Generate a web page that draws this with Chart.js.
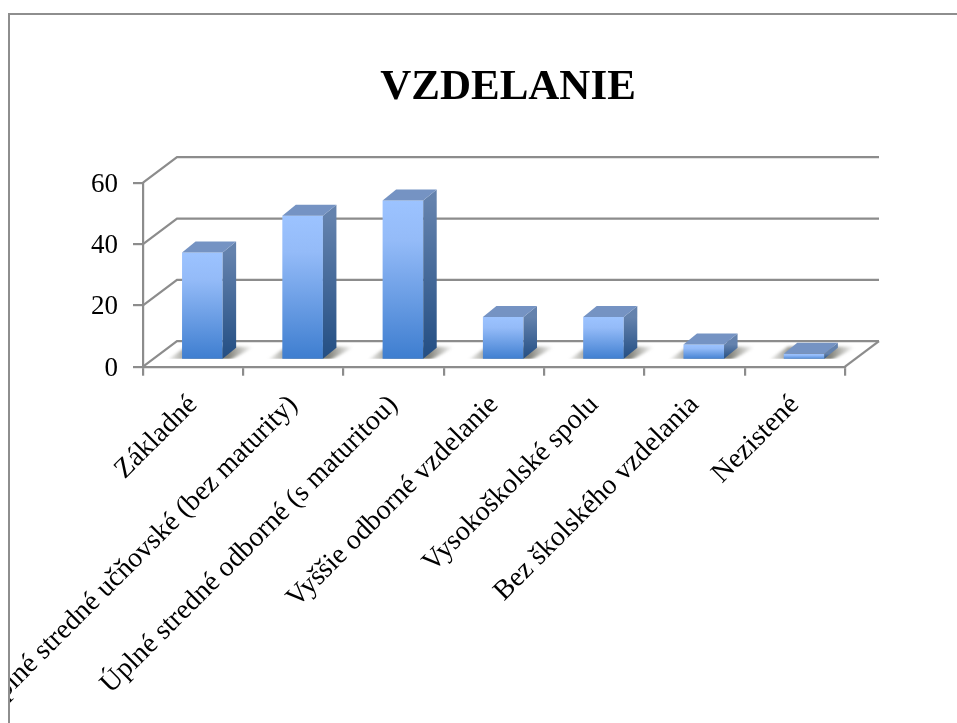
<!DOCTYPE html>
<html><head><meta charset="utf-8">
<style>
html,body{margin:0;padding:0;background:#fff;overflow:hidden;width:957px;height:723px}
#frame{position:absolute;left:8px;top:13px;width:949px;height:710px;box-sizing:border-box;border-left:2px solid #8e8e8e;border-top:2px solid #8e8e8e;overflow:hidden;background:#fff}
#frame canvas{position:absolute;left:0;top:0}
</style>
<script src="https://cdn.jsdelivr.net/npm/chart.js@4"></script>
</head><body>
<div id="frame"><canvas id="c" width="996" height="708" style="width:996px;height:708px"></canvas></div>
<script>
const titleText = 'VZDELANIE';
const categories = ['Základné','Úplné stredné učňovské (bez maturity)','Úplné stredné odborné (s maturitou)','Vyššie odborné vzdelanie','Vysokoškolské spolu','Bez školského vzdelania','Nezistené'];
const values = [35,47,52,14,14,5,2];
const yMax = 60, yStep = 20;

const LINE = '#8c8c8c';
const wall = {dx:34, dy:-25.5};
const front = {dx:9.2, dy:-6.8};
const depth = {dx:13.5, dy:-11};

function poly(ctx, pts){ctx.beginPath();pts.forEach((p,i)=>i?ctx.lineTo(p[0],p[1]):ctx.moveTo(p[0],p[1]));ctx.closePath();}

const bars3d = {
  id:'bars3d',
  beforeDraw(chart){
    // centre the title over the full canvas rather than the padded box
    chart.titleBlock.left = 0;
    chart.titleBlock.right = chart.width;
  },
  beforeDatasetsDraw(chart){
    const {ctx, chartArea:a, scales:{y}} = chart;
    ctx.save();
    ctx.strokeStyle = LINE; ctx.lineWidth = 2.2;
    y.ticks.forEach(t=>{
      const py = y.getPixelForValue(t.value);
      ctx.beginPath();
      ctx.moveTo(a.left,py);
      ctx.lineTo(a.left+wall.dx,py+wall.dy);
      ctx.lineTo(a.right+wall.dx,py+wall.dy);
      ctx.stroke();
    });
    const b = y.getPixelForValue(0);
    ctx.beginPath();ctx.moveTo(a.right,b);ctx.lineTo(a.right+wall.dx,b+wall.dy);ctx.stroke();
    // soft floor shadows, cut off along the bar's base line
    chart.getDatasetMeta(0).data.forEach(el=>{
      const l = el.x-el.width/2+front.dx, r = el.x+el.width/2+front.dx, yb = el.base+front.dy;
      ctx.save();
      ctx.beginPath();ctx.rect(l-30,yb-20,el.width+90,20);ctx.clip();
      ctx.filter = 'blur(1.5px)';
      const g = ctx.createLinearGradient(l-16,0,r+30,0);
      g.addColorStop(0,'rgba(100,100,90,0)');
      g.addColorStop(0.3,'rgba(100,100,90,0.8)');
      g.addColorStop(0.72,'rgba(100,100,90,0.8)');
      g.addColorStop(1,'rgba(100,100,90,0)');
      ctx.fillStyle = g;
      poly(ctx,[[l-16,yb+2],[r+6,yb+2],[r+32,yb-12],[l+4,yb-12]]);
      ctx.fill();
      ctx.restore();
    });
    ctx.restore();
  },
  beforeDatasetDraw(chart){
    chart.ctx.save();
    chart.ctx.translate(front.dx,front.dy);
  },
  afterDatasetDraw(chart,args){
    const ctx = chart.ctx;
    ctx.restore();
    ctx.save();
    args.meta.data.forEach(el=>{
      const l = el.x-el.width/2+front.dx, r = el.x+el.width/2+front.dx;
      const t = el.y+front.dy, b = el.base+front.dy;
      const g = ctx.createLinearGradient(0,t,0,b);
      g.addColorStop(0,'#6482ad');
      g.addColorStop(1,'#234e83');
      ctx.fillStyle = g;
      poly(ctx,[[r,t],[r+depth.dx,t+depth.dy],[r+depth.dx,b+depth.dy],[r,b]]);
      ctx.fill();
      ctx.fillStyle = '#7593c3';
      poly(ctx,[[l,t],[l+depth.dx,t+depth.dy],[r+depth.dx,t+depth.dy],[r,t]]);
      ctx.fill();
    });
    ctx.restore();
  }
};

new Chart(document.getElementById('c'),{
  type:'bar',
  data:{labels:categories,datasets:[{
    data:values,
    clip:false,
    categoryPercentage:0.8,
    barPercentage:0.506,
    borderWidth:0,
    backgroundColor(c){
      const y = c.chart.scales.y;
      const top = y && c.raw!==undefined ? y.getPixelForValue(c.raw) : NaN;
      const bot = y ? y.getPixelForValue(0) : NaN;
      if(!isFinite(top) || !isFinite(bot)) return '#6a9ce6';
      const g = c.chart.ctx.createLinearGradient(0,top,0,bot);
      g.addColorStop(0,'#9cc3ff');
      g.addColorStop(0.25,'#94bbf8');
      g.addColorStop(1,'#3d7dcf');
      return g;
    }
  }]},
  plugins:[bars3d],
  options:{
    responsive:false,animation:false,
    layout:{autoPadding:false,padding:{left:0,top:0,bottom:0,right:161}},
    plugins:{
      legend:{display:false},
      tooltip:{enabled:false},
      title:{display:true,text:titleText,color:'#000',
        font:{family:'"Liberation Serif"',size:43,weight:'bold',lineHeight:1.2},
        padding:{top:47.2,bottom:68.9}}
    },
    scales:{
      x:{
        afterFit(s){s.height=356.3;},
        grid:{drawOnChartArea:false,drawTicks:true,tickLength:9,color:LINE,lineWidth:2.2,offset:true},
        border:{color:LINE,width:2.2},
        ticks:{autoSkip:false,minRotation:45,maxRotation:45,padding:13,color:'#000',
          font:{family:'"Liberation Serif"',size:28}}
      },
      y:{
        min:0,max:yMax,
        afterFit(s){s.width=133;},
        afterUpdate(s){
          if(s._labelsNudged) return;
          s._labelsNudged = true;
          const draw = s.drawLabels;
          s.drawLabels = function(area){
            s.ctx.save(); s.ctx.translate(0,1.8);
            draw.call(s,area);
            s.ctx.restore();
          };
        },
        grid:{drawOnChartArea:false,drawTicks:true,tickLength:10,color:LINE,lineWidth:2.2},
        border:{color:LINE,width:2.2},
        ticks:{stepSize:yStep,padding:15,color:'#000',font:{family:'"Liberation Serif"',size:27}}
      }
    }
  }
});
</script>
</body></html>
